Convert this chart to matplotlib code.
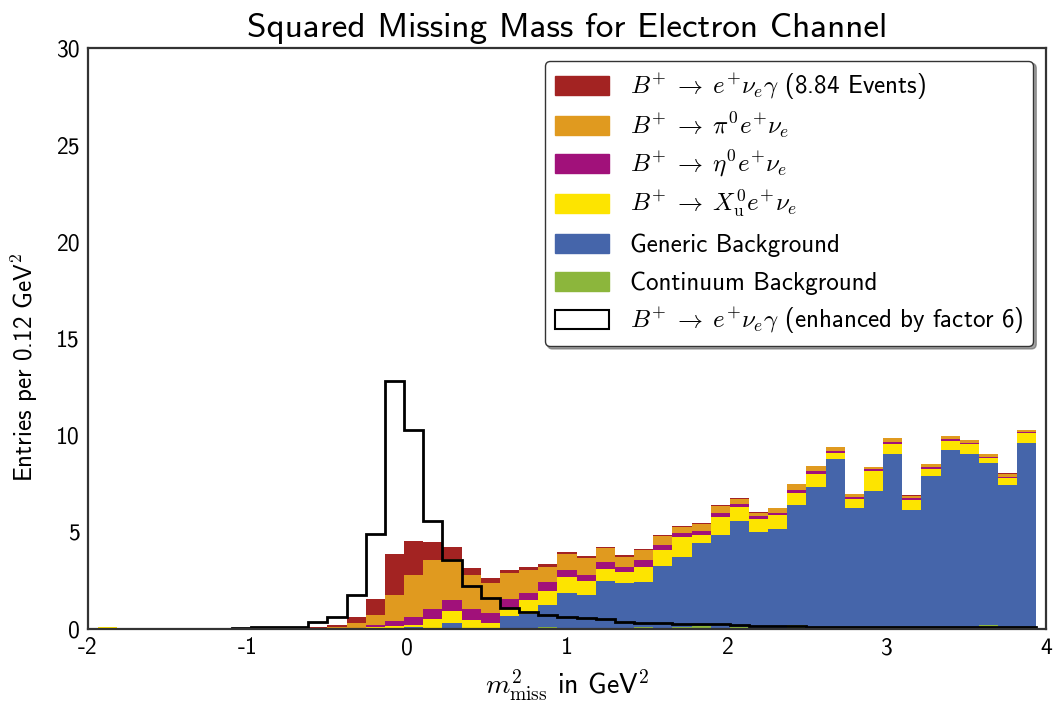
import numpy as np
import matplotlib
matplotlib.use('Agg')
import matplotlib.pyplot as plt
from matplotlib.patches import Patch, Rectangle
from matplotlib.legend_handler import HandlerPatch

plt.rcParams['font.family'] = ['cmss10', 'DejaVu Sans']
plt.rcParams['mathtext.fontset'] = 'cm'
plt.rcParams['axes.unicode_minus'] = False

# Bin edges in GeV^2 (0.12 GeV^2 wide)
edges = np.linspace(-1.94, 3.94, 50)
centres = 0.5 * (edges[:-1] + edges[1:])

# Entries per bin, one array per component (stacked bottom -> top)
continuum = [0, 0, 0, 0, 0, 0, 0, 0, 0, 0,
             0, 0, 0, 0, 0, 0, 0, 0, 0, 0,
             0, 0, 0, 0.12, 0, 0, 0, 0, 0.10, 0,
             0.10, 0.15, 0, 0.10, 0, 0, 0.20, 0, 0, 0,
             0, 0, 0, 0, 0, 0, 0.20, 0, 0.05]
generic = [0, 0.05, 0.05, 0.05, 0, 0, 0, 0, 0, 0,
           0, 0, 0, 0.05, 0.02, 0.05, 0.12, 0, 0.33, 0,
           0, 0.67, 0.77, 1.10, 1.84, 1.74, 2.46, 2.36, 2.33, 3.25,
           3.60, 4.31, 4.84, 5.49, 5.01, 5.15, 6.19, 7.31, 8.76, 6.25,
           7.14, 9.03, 6.14, 7.90, 9.24, 9.03, 8.39, 7.45, 9.57]
xu = [0.08, 0, 0, 0, 0, 0.06, 0, 0, 0, 0,
      0, 0, 0, 0, 0.08, 0.12, 0.07, 0.53, 0.62, 0.46,
      0.29, 0.34, 0.73, 0.76, 0.86, 0.72, 0.62, 0.58, 0.79, 0.83,
      1.03, 0.41, 0.96, 0.73, 0.69, 0.72, 0.61, 0.69, 0.34, 0.45,
      1.03, 0.52, 0.52, 0.34, 0.48, 0.52, 0.24, 0.34, 0.48]
eta = [0, 0, 0, 0, 0, 0, 0, 0, 0, 0,
       0, 0, 0, 0, 0.12, 0.23, 0.42, 0.48, 0.55, 0.55,
       0.55, 0.56, 0.38, 0.45, 0.35, 0.34, 0.38, 0.28, 0.34, 0.27,
       0.21, 0.17, 0.17, 0.13, 0.13, 0.14, 0.18, 0.14, 0.10, 0.10,
       0.07, 0.10, 0.10, 0.11, 0.11, 0.07, 0.07, 0.07, 0.07]
pi0 = [0, 0, 0, 0, 0, 0, 0, 0, 0, 0.03,
       0.05, 0.06, 0.09, 0.28, 0.52, 1.34, 2.20, 2.55, 2.13, 1.76,
       1.52, 1.30, 1.17, 0.79, 0.82, 0.86, 0.70, 0.52, 0.50, 0.47,
       0.33, 0.38, 0.38, 0.28, 0.18, 0.22, 0.29, 0.26, 0.19, 0.15,
       0.12, 0.19, 0.12, 0.15, 0.11, 0.12, 0.11, 0.16, 0.08]
signal = [0, 0, 0, 0, 0, 0, 0, 0.005, 0.013, 0.017,
          0.02, 0.06, 0.10, 0.295, 0.82, 2.13, 1.71, 0.93, 0.59, 0.37,
          0.27, 0.18, 0.15, 0.12, 0.10, 0.095, 0.09, 0.06, 0.055, 0.05,
          0.047, 0.043, 0.04, 0.035, 0.03, 0.025, 0.025, 0.02, 0.02, 0.02,
          0.02, 0.02, 0.02, 0.02, 0.02, 0.02, 0.02, 0.02, 0.02]
enhance = 6

colours = {'signal': '#a32322', 'pi0': '#e09a1f', 'eta': '#a1117a',
           'xu': '#fde400', 'generic': '#4565aa', 'continuum': '#8cb63c'}


def swatch(legend, orig_handle, xdescent, ydescent, width, height, fontsize):
    """ Legend patch that is shorter than its (taller) row. """
    h = 0.75 * fontsize
    return Rectangle((-xdescent, -ydescent + (height - h) / 2), width, h)


fig = plt.figure(figsize=(10.59, 7.08), dpi=100)
ax = fig.add_axes([0.0831, 0.1116, 0.9046, 0.8206])

stack = [continuum, generic, xu, eta, pi0, signal]
stack_colours = [colours['continuum'], colours['generic'], colours['xu'],
                 colours['eta'], colours['pi0'], colours['signal']]
ax.hist([centres] * len(stack), bins=edges, weights=stack, stacked=True,
        histtype='stepfilled', color=stack_colours, linewidth=0)
ax.hist(centres, bins=edges, weights=np.array(signal) * enhance,
        histtype='step', color='black', linewidth=2)

ax.set_xlim(-2, 4)
ax.set_ylim(0, 30)
ax.set_xticks(range(-2, 5))
ax.set_yticks(range(0, 31, 5))
ax.tick_params(length=0, labelsize=17, pad=6)
for spine in ax.spines.values():
    spine.set_color('#333333')
    spine.set_linewidth(1.6)

ax.set_title('Squared Missing Mass for Electron Channel', fontsize=25.3, pad=8)
ax.set_xlabel(r'$m^2_{\mathrm{miss}}$ in GeV$^2$', fontsize=20)
ax.xaxis.set_label_coords(0.5, -0.066)
ax.set_ylabel(r'Entries per 0.12 GeV$^2$', fontsize=18)
ax.yaxis.set_label_coords(-0.05, 0.45)

rel = r'\;\to\;'
handles = [Patch(color=colours['signal']),
           Patch(color=colours['pi0']),
           Patch(color=colours['eta']),
           Patch(color=colours['xu']),
           Patch(color=colours['generic']),
           Patch(color=colours['continuum']),
           Patch(facecolor='white', edgecolor='black', linewidth=1.5)]
labels = [r'$B^{+}' + rel + r'e^{+}\nu_{e}\gamma$ (8.84 Events)',
          r'$B^{+}' + rel + r'\pi^{0}e^{+}\nu_{e}$',
          r'$B^{+}' + rel + r'\eta^{0}e^{+}\nu_{e}$',
          r'$B^{+}' + rel + r'X_{\mathrm{u}}^{0}e^{+}\nu_{e}$',
          'Generic Background',
          'Continuum Background',
          r'$B^{+}' + rel + r'e^{+}\nu_{e}\gamma$ (enhanced by factor 6)']
leg = ax.legend(handles, labels, loc='upper right', fontsize=18,
                handler_map={Patch: HandlerPatch(patch_func=swatch)},
                fancybox=True, shadow=True, framealpha=1,
                handlelength=2.15, handleheight=1.45, handletextpad=0.85,
                labelspacing=0.34, borderpad=0.4, borderaxespad=0.5)
leg.get_frame().set_edgecolor('#333333')

fig.savefig('out.png', dpi=100)
